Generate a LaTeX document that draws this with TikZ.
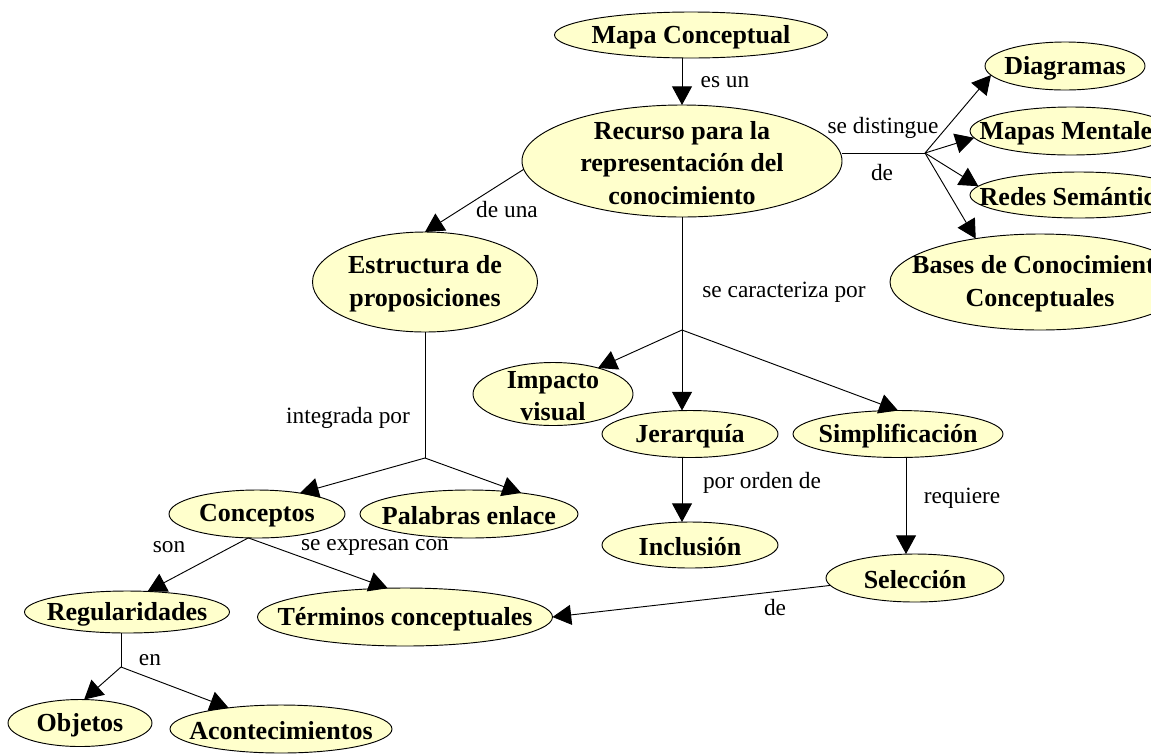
\documentclass[tikz,border=0pt]{standalone}
\usepackage{fontspec}
\setmainfont{Liberation Serif}
\usetikzlibrary{shapes.geometric,arrows.meta}
\definecolor{cfill}{RGB}{255,255,204}
\tikzset{
  concept/.style={ellipse, draw=black, line width=0.7pt, fill=cfill, inner sep=0pt, outer sep=0pt},
  ctext/.style={font=\fontsize{19.5}{24.5}\selectfont\bfseries, align=center, inner sep=0pt, text=black},
  lbl/.style={font=\fontsize{17.5}{20}\selectfont, inner sep=0pt},
  link/.style={line width=0.7pt, black},
  arr/.style={link, -{Triangle[length=14pt,width=15pt]}}
}
\newcommand\cnode[6]{\node[concept, minimum width=#4pt, minimum height=#5pt, label={[ctext,name=#1-t,yshift=-1.5pt]center:#6}] (#1) at (#2,#3) {};}
\begin{document}
\begin{tikzpicture}[x=0.75pt,y=-0.75pt]
\useasboundingbox (0,0) rectangle (1151,754);
\fill[white] (0,0) rectangle (1151,754);
\clip (0,0) rectangle (1151,754);

% concept nodes
\cnode{mapa}{691}{35}{204.75}{34.5}{Mapa Conceptual}
\cnode{recurso}{682}{161}{240}{84}{Recurso para la\\representación del\\conocimiento}
\cnode{diag}{1065}{66}{120}{36}{Diagramas}
\cnode{ment}{1071}{131}{151.5}{36}{Mapas Mentales}
\cnode{redes}{1079}{195}{163.5}{34.5}{Redes Semánticas}
\cnode{bases}{1040}{282}{225}{72}{Bases de Conocimiento\\Conceptuales}
\cnode{estr}{425}{282}{168.75}{75}{Estructura de\\proposiciones}
\cnode{impacto}{553}{394}{120}{47.25}{Impacto\\visual}
\cnode{jer}{690}{434}{132}{35.25}{Jerarquía}
\cnode{simp}{898}{434}{157.5}{35.25}{Simplificación}
\cnode{inc}{690}{545}{132}{34.5}{Inclusión}
\cnode{sel}{915}{578}{133.5}{36}{Selección}
\cnode{concep}{257}{514}{132}{36}{Conceptos}
\cnode{pal}{469}{514}{163.5}{36}{Palabras enlace}
\cnode{reg}{127}{612}{153.75}{31.5}{Regularidades}
\cnode{term}{405}{617}{221.25}{43.5}{Términos conceptuales}
\cnode{obj}{80}{723}{108}{35.25}{Objetos}
\cnode{acon}{281}{729}{166.5}{36}{Acontecimientos}

% junctions
\coordinate (jd) at (925,153);
\coordinate (jc) at (682,330);
\coordinate (je) at (425,458);
\coordinate (jr) at (121,667);
\coordinate (sx) at ([xshift=6pt]simp.south);

% connectors
\draw[arr] (mapa.south -| recurso.north) -- (recurso.north);
\draw[link] (jd -| recurso.east) -- (jd);
\draw[arr] (jd) -- (diag.187);
\draw[arr] (jd) -- (ment.184);
\draw[arr] (jd) -- (redes.175);
\draw[arr] (jd) -- (bases.146);
\draw[arr] (recurso.183) -- (estr.north);
\draw[link] (recurso.south) -- (jc);
\draw[arr] (jc) -- (jc |- jer.north);
\draw[arr] (jc) -- (impacto.30);
\draw[arr] (jc) -- (simp.north);
\draw[arr] (jer.south -| jc) -- (inc.north -| jc);
\draw[arr] (sx) -- (sx |- sel.north);
\draw[arr] (sel.185) -- (term.east);
\draw[link] (estr.south) -- (je);
\draw[arr] (je) -- (concep.26);
\draw[arr] (je) -- (pal.22);
\draw[arr] (concep.250) -- (reg.45);
\draw[arr] (concep.250) -- (term.121);
\draw[link] (reg.south -| jr) -- (jr);
\draw[arr] (jr) -- (obj.80);
\draw[arr] (jr) -- (acon.158);

% link labels
\node[lbl] (l1) at (725,82) {es un};
\node[lbl] (l2) at (883,128) {se distingue};
\node[lbl] (l3) at (882,173) {de};
\node[lbl] (l4) at (507,210) {de una};
\node[lbl] (l5) at (784,292) {se caracteriza por};
\node[lbl] (l6) at (348,418) {integrada por};
\node[lbl] (l7) at (762,483) {por orden de};
\node[lbl] (l8) at (962,498) {requiere};
\node[lbl] (l9) at (775,608) {de};
\node[lbl] (l10) at (169,547) {son};
\node[lbl] (l11) at (375,547) {se expresan con};
\node[lbl] (l12) at (150,660) {en};
\end{tikzpicture}
\end{document}
